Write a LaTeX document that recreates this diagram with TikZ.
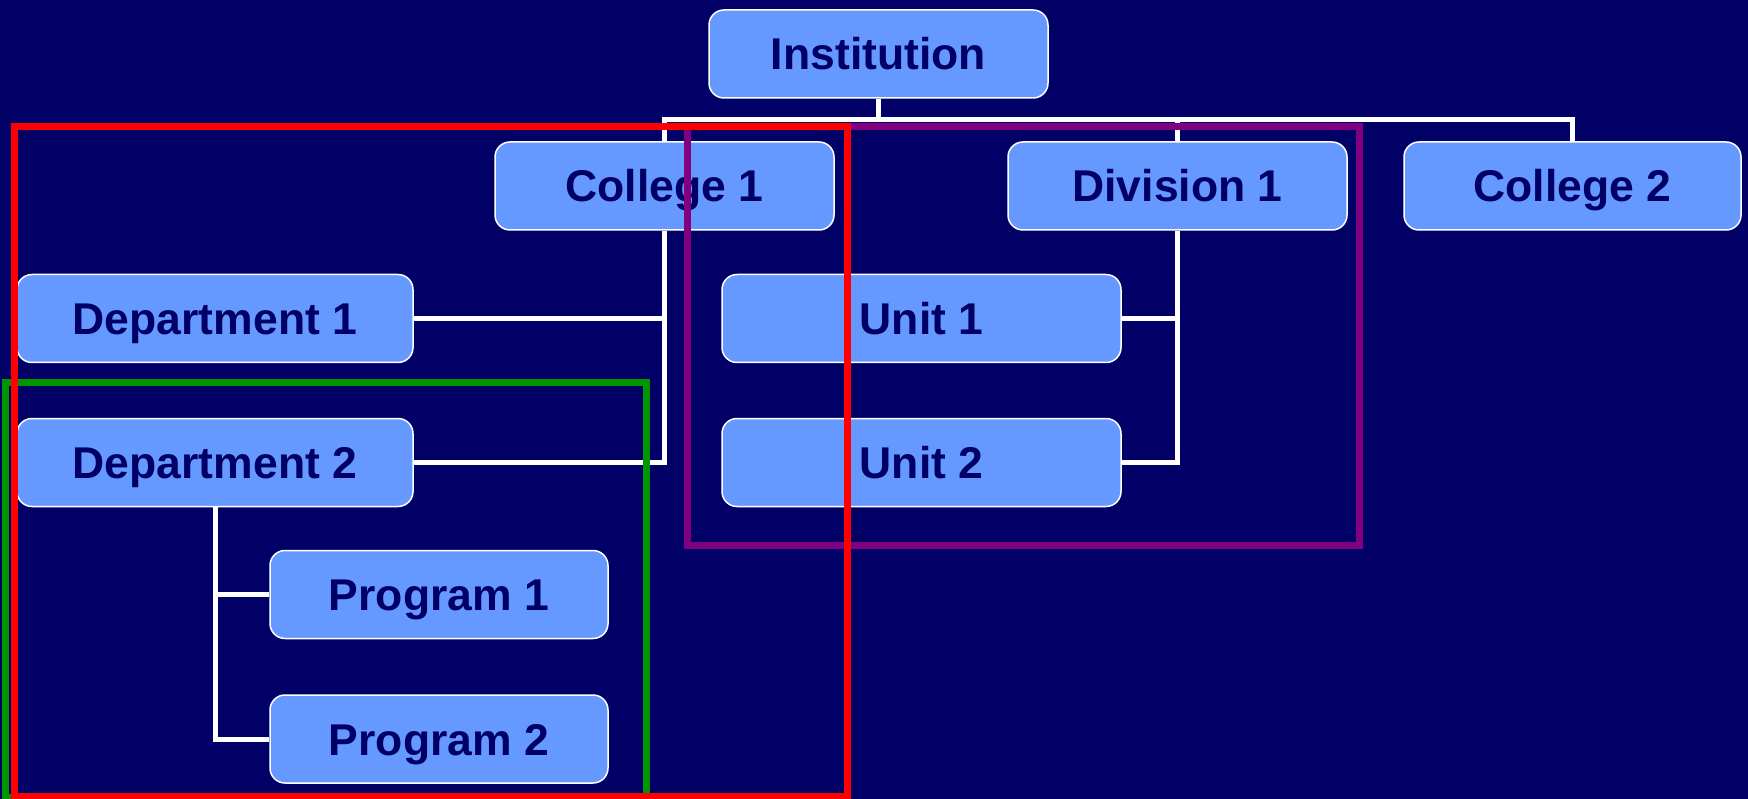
\documentclass[tikz,border=0pt]{standalone}
\usepackage{fontspec}
\setmainfont{Liberation Sans}
\definecolor{navy}{RGB}{0,0,102}
\definecolor{boxblue}{RGB}{102,153,255}
\definecolor{grpred}{RGB}{255,0,0}
\definecolor{grpgreen}{RGB}{0,150,0}
\definecolor{grppurple}{RGB}{128,0,128}
\begin{document}
\begin{tikzpicture}[x=1pt,y=-1pt,
  orgbox/.style={draw=white, line width=1.5pt, fill=boxblue, rounded corners=15pt,
    text=navy, font=\fontsize{44.5}{50}\selectfont\bfseries, inner sep=0pt,
    text height=32pt, text depth=0pt, minimum height=88pt},
  wire/.style={draw=white, line width=5pt, line join=miter},
  grp/.style={line width=7pt, line join=miter}]
  % background and page size
  \fill[navy] (0,0) rectangle (1748,799);
  \useasboundingbox (0,0) rectangle (1748,799);

  % boxes
  \node[orgbox, minimum width=339pt] (inst) at (878.5,54) {Institution};
  \node[orgbox, minimum width=339pt] (c1) at (664.5,186) {College 1};
  \node[orgbox, minimum width=339pt] (div) at (1177.5,186) {Division 1};
  \node[orgbox, minimum width=337pt] (c2) at (1572.5,186) {College 2};
  \node[orgbox, minimum width=396pt] (d1) at (215,318.5) {Department 1};
  \node[orgbox, minimum width=396pt] (d2) at (215,462.5) {Department 2};
  \node[orgbox, minimum width=399pt] (u1) at (921.5,318.5) {Unit 1};
  \node[orgbox, minimum width=399pt] (u2) at (921.5,462.5) {Unit 2};
  \node[orgbox, minimum width=338pt] (p1) at (439,594.5) {Program 1};
  \node[orgbox, minimum width=338pt] (p2) at (439,739) {Program 2};

  % connectors
  \coordinate (bus) at (878.5,120);
  \draw[wire] (inst.south) -- (bus);
  \draw[wire] (c1.north) |- (bus) -| (c2.north);
  \draw[wire] (div.north) -- (div.north |- bus);
  \draw[wire] (d1.east) -| (c1.south);
  \draw[wire] (c1.south) |- (d2.east);
  \draw[wire] (u1.east) -| (div.south);
  \draw[wire] (div.south) |- (u2.east);
  \draw[wire] (p1.west) -| (d2.south);
  \draw[wire] (d2.south) |- (p2.west);

  % grouping frames
  \draw[grp, grpgreen] (5,383) rectangle (646,797);
  \draw[grp, grppurple] (687,127) rectangle (1359,545);
  \draw[grp, grpred] (14,127) rectangle (847,796);
\end{tikzpicture}
\end{document}
